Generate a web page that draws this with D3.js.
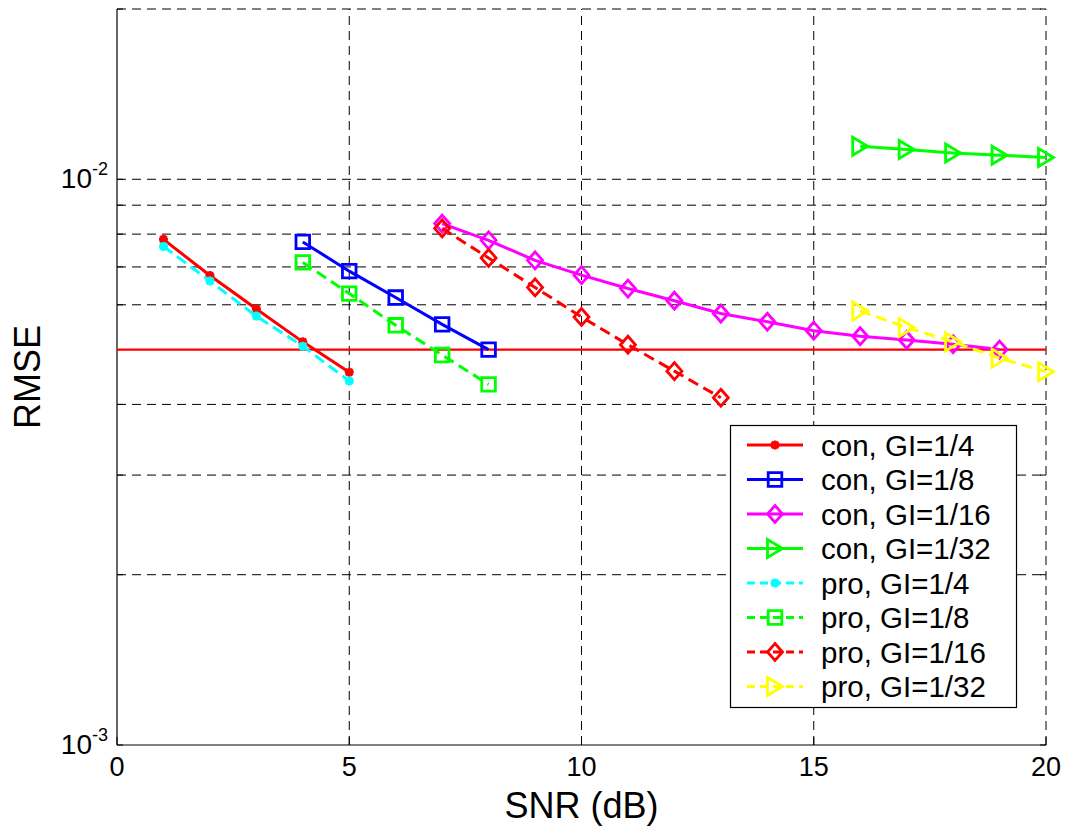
<!DOCTYPE html>
<html>
<head>
<meta charset="utf-8">
<script src="https://cdn.jsdelivr.net/npm/d3@7"></script>
<style>
  body { margin: 0; background: #fff; }
  text { font-family: Arial, "Liberation Sans", Helvetica, sans-serif; fill: #000; }
</style>
</head>
<body>
<script>
const width = 1066;
const height = 833;

// data (SNR in dB, RMSE)
const snrConGI4 = [1, 2, 3, 4, 5];
const rmseConGI4 = [7.83e-3, 6.76e-3, 5.90e-3, 5.16e-3, 4.56e-3];
const snrConGI8 = [4, 5, 6, 7, 8];
const rmseConGI8 = [7.75e-3, 6.88e-3, 6.18e-3, 5.54e-3, 5.00e-3];
const snrConGI16 = [7, 8, 9, 10, 11, 12, 13, 14, 15, 16, 17, 18, 19];
const rmseConGI16 = [8.35e-3, 7.80e-3, 7.19e-3, 6.77e-3, 6.41e-3, 6.10e-3, 5.79e-3, 5.60e-3, 5.40e-3, 5.28e-3, 5.20e-3, 5.11e-3, 5.00e-3];
const snrConGI32 = [16, 17, 18, 19, 20];
const rmseConGI32 = [1.144e-2, 1.129e-2, 1.113e-2, 1.103e-2, 1.093e-2];
const snrProGI4 = [1, 2, 3, 4, 5];
const rmseProGI4 = [7.61e-3, 6.61e-3, 5.73e-3, 5.07e-3, 4.40e-3];
const snrProGI8 = [4, 5, 6, 7, 8];
const rmseProGI8 = [7.13e-3, 6.28e-3, 5.52e-3, 4.89e-3, 4.34e-3];
const snrProGI16 = [7, 8, 9, 10, 11, 12, 13];
const rmseProGI16 = [8.19e-3, 7.26e-3, 6.44e-3, 5.71e-3, 5.10e-3, 4.58e-3, 4.11e-3];
const snrProGI32 = [16, 17, 18, 19, 20];
const rmseProGI32 = [5.85e-3, 5.47e-3, 5.16e-3, 4.83e-3, 4.57e-3];

// reference level drawn as a red horizontal line
const refLevel = 5e-3;

const xTicks = [0, 5, 10, 15, 20];
const yMajorTicks = [1e-3, 1e-2];
const yGridTicks = [2e-3, 3e-3, 4e-3, 5e-3, 6e-3, 7e-3, 8e-3, 9e-3, 1e-2, 2e-2];
const xLabel = "SNR (dB)";
const yLabel = "RMSE";

const series = [
    {name: "con, GI=1/4", x: snrConGI4, y: rmseConGI4, color: "#ff0000", dash: null, marker: "star"},
    {name: "con, GI=1/8", x: snrConGI8, y: rmseConGI8, color: "#0000ff", dash: null, marker: "square"},
    {name: "con, GI=1/16", x: snrConGI16, y: rmseConGI16, color: "#ff00ff", dash: null, marker: "diamond"},
    {name: "con, GI=1/32", x: snrConGI32, y: rmseConGI32, color: "#00ff00", dash: null, marker: "triangle"},
    {name: "pro, GI=1/4", x: snrProGI4, y: rmseProGI4, color: "#00ffff", dash: "11,6", marker: "star"},
    {name: "pro, GI=1/8", x: snrProGI8, y: rmseProGI8, color: "#00ff00", dash: "11,6", marker: "square"},
    {name: "pro, GI=1/16", x: snrProGI16, y: rmseProGI16, color: "#ff0000", dash: "11,6", marker: "diamond"},
    {name: "pro, GI=1/32", x: snrProGI32, y: rmseProGI32, color: "#ffff00", dash: "11,6", marker: "triangle"}
];

const plotLeft = 117, plotRight = 1046, plotTop = 9, plotBottom = 745;

const x = d3.scaleLinear().domain([0, 20]).range([plotLeft, plotRight]);
const y = d3.scaleLog().domain([1e-3, 2e-2]).range([plotBottom, plotTop]);

const svg = d3.select("body").append("svg")
    .attr("width", width)
    .attr("height", height);

// grid
svg.append("g")
    .selectAll("line")
    .data(yGridTicks)
    .enter().append("line")
    .attr("x1", plotLeft).attr("x2", plotRight)
    .attr("y1", d => y(d)).attr("y2", d => y(d))
    .attr("stroke", "#000")
    .attr("stroke-width", 1)
    .attr("stroke-dasharray", "9,6");

svg.append("g")
    .selectAll("line")
    .data(xTicks.slice(1))
    .enter().append("line")
    .attr("x1", d => x(d)).attr("x2", d => x(d))
    .attr("y1", plotBottom).attr("y2", plotTop)
    .attr("stroke", "#000")
    .attr("stroke-width", 1)
    .attr("stroke-dasharray", "9,6");

// small inward ticks on both sides
const yTickAll = [1e-3].concat(yGridTicks);
svg.append("g")
    .selectAll("line")
    .data(yTickAll)
    .enter().append("line")
    .attr("x1", plotRight - 6).attr("x2", plotRight)
    .attr("y1", d => y(d)).attr("y2", d => y(d))
    .attr("stroke", "#000");
svg.append("g")
    .selectAll("line")
    .data(yTickAll)
    .enter().append("line")
    .attr("x1", plotLeft).attr("x2", plotLeft + 6)
    .attr("y1", d => y(d)).attr("y2", d => y(d))
    .attr("stroke", "#000");
svg.append("g")
    .selectAll("line")
    .data(xTicks)
    .enter().append("line")
    .attr("x1", d => x(d)).attr("x2", d => x(d))
    .attr("y1", plotBottom).attr("y2", plotBottom - 8)
    .attr("stroke", "#000");

// axis lines
svg.append("line")
    .attr("x1", plotLeft).attr("x2", plotLeft)
    .attr("y1", plotTop).attr("y2", plotBottom)
    .attr("stroke", "#000").attr("stroke-width", 1.2);
svg.append("line")
    .attr("x1", plotLeft).attr("x2", plotRight)
    .attr("y1", plotBottom).attr("y2", plotBottom)
    .attr("stroke", "#000").attr("stroke-width", 1.2);

// tick labels
svg.append("g")
    .selectAll("text")
    .data(xTicks)
    .enter().append("text")
    .attr("x", d => x(d))
    .attr("y", 776)
    .attr("text-anchor", "middle")
    .style("font-size", "27px")
    .text(d => d);

const yLab = svg.append("g")
    .selectAll("text")
    .data(yMajorTicks)
    .enter().append("text")
    .attr("x", 108)
    .attr("y", d => y(d) + 9)
    .attr("text-anchor", "end")
    .style("font-size", "28px");
yLab.append("tspan").text("10");
yLab.append("tspan")
    .attr("dy", -13)
    .style("font-size", "18px")
    .text(d => String(Math.round(Math.log10(d))));

// axis titles
svg.append("text")
    .attr("x", (plotLeft + plotRight) / 2)
    .attr("y", 818)
    .attr("text-anchor", "middle")
    .style("font-size", "36px")
    .text(xLabel);

svg.append("text")
    .attr("transform", `translate(40,${(plotTop + plotBottom) / 2}) rotate(-90)`)
    .attr("text-anchor", "middle")
    .style("font-size", "36px")
    .text(yLabel);

// marker shapes
function markerPath(type) {
    if (type === "star") {
        const r = 4.5, s = 3.3;
        return `M${-r},0L${r},0M0,${-r}L0,${r}M${-s},${-s}L${s},${s}M${-s},${s}L${s},${-s}`;
    }
    if (type === "square") {
        const h = 6.8;
        return `M${-h},${-h}L${h},${-h}L${h},${h}L${-h},${h}Z`;
    }
    if (type === "diamond") {
        const w = 7.5, h = 8.5;
        return `M0,${-h}L${w},0L0,${h}L${-w},0Z`;
    }
    // right-pointing triangle
    const w = 7.5, h = 9;
    return `M${-w},${-h}L${w},0L${-w},${h}Z`;
}

// red reference line
svg.append("line")
    .attr("x1", x(0)).attr("x2", x(20))
    .attr("y1", y(refLevel)).attr("y2", y(refLevel))
    .attr("stroke", "#ff0000")
    .attr("stroke-width", 2.4);

const line = d3.line()
    .x(d => x(d[0]))
    .y(d => y(d[1]));

series.forEach(s => {
    const pts = s.x.map((v, i) => [v, s.y[i]]);
    const g = svg.append("g");
    g.append("path")
        .datum(pts)
        .attr("d", line)
        .attr("fill", "none")
        .attr("stroke", s.color)
        .attr("stroke-width", 3)
        .attr("stroke-dasharray", s.dash);
    g.selectAll(".m")
        .data(pts)
        .enter().append("path")
        .attr("class", "m")
        .attr("transform", d => `translate(${x(d[0])},${y(d[1])})`)
        .attr("d", markerPath(s.marker))
        .attr("fill", "none")
        .attr("stroke", s.color)
        .attr("stroke-width", 2.8);
});

// legend
const legend = svg.append("g");
legend.append("rect")
    .attr("x", 730.5).attr("y", 425.5)
    .attr("width", 286).attr("height", 282)
    .attr("fill", "#fff")
    .attr("stroke", "#000")
    .attr("stroke-width", 1.2);

const rowY = i => 445 + i * 34.5;
series.forEach((s, i) => {
    const ly = rowY(i);
    legend.append("line")
        .attr("x1", 747).attr("x2", 803)
        .attr("y1", ly).attr("y2", ly)
        .attr("stroke", s.color)
        .attr("stroke-width", 3)
        .attr("stroke-dasharray", s.dash ? "8,5" : null);
    legend.append("path")
        .attr("transform", `translate(775,${ly})`)
        .attr("d", markerPath(s.marker))
        .attr("fill", "none")
        .attr("stroke", s.color)
        .attr("stroke-width", 2.8);
    legend.append("text")
        .attr("x", 821)
        .attr("y", ly + 10.5)
        .style("font-size", "29.5px")
        .text(s.name);
});
</script>
</body>
</html>
